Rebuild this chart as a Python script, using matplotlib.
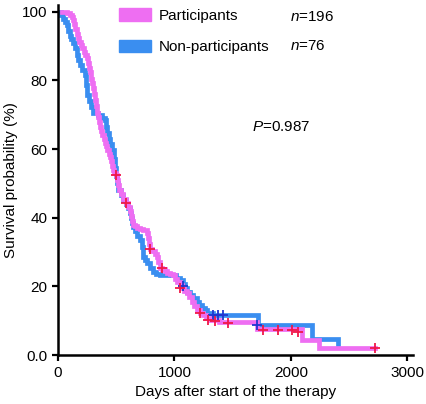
import matplotlib
matplotlib.use("Agg")
import matplotlib.pyplot as plt
from matplotlib.patches import Patch

plt.rcParams['font.family'] = ['Liberation Sans', 'DejaVu Sans']
plt.rcParams['mathtext.fontset'] = 'custom'
plt.rcParams['mathtext.it'] = 'Liberation Sans:italic'
plt.rcParams['mathtext.rm'] = 'Liberation Sans'

# Kaplan-Meier steps (days, survival %)
part_t = [34, 80, 103, 120, 129, 140, 150, 160, 172, 185, 195, 206, 220, 235, 249,
          258, 266, 275, 283, 292, 300, 309, 318, 326, 335, 344, 352, 361, 370, 380,
          392, 403, 414, 425, 436, 446, 455, 463, 472, 485, 498, 505, 512, 524, 540,
          560, 584, 600, 618, 625, 635, 644, 660, 678, 705, 730, 764, 772, 780, 790,
          810, 830, 850, 860, 876, 895, 918, 940, 965, 987, 1005, 1025, 1047, 1065,
          1085, 1107, 1128, 1150, 1170, 1193, 1220, 1245, 1275, 1305, 1380, 1708,
          2094, 2240, 2721]
part_s = [100, 99.5, 99, 98.5, 97.7, 96.5, 95, 93.5, 92.4, 91.2, 90.3, 89.5, 88.3, 87.5, 86.6,
          85, 83.5, 82.5, 80.5, 79.3, 77.8, 76, 74.3, 72.5, 70.6, 69.3, 68, 66.5, 65.4, 64.2,
          63, 61.8, 60.8, 59.8, 58.7, 57.7, 56.5, 55.2, 53.9, 53, 52.5, 51, 49.5, 48, 46.8,
          45.5, 44.3, 43.2, 42, 40.5, 39, 38, 37.5, 37, 36.7, 36.4, 35.6, 34, 32.5, 31,
          30.2, 29.4, 28.6, 27, 25.4, 25, 24.5, 24, 23.6, 23.3, 22.3, 21.4, 20.4, 19.6,
          18.8, 18, 16.8, 15.5, 14.2, 13, 12.3, 11.7, 10.9, 10.2, 9.6, 7.6,
          4.4, 2.1, 2.1]

non_t = [17, 30, 43, 60, 77, 90, 103, 116, 129, 146, 163, 176, 189, 210, 232, 240,
         249, 266, 283, 300, 340, 378, 403, 412, 421, 435, 450, 464, 477, 489, 498,
         506, 515, 540, 560, 584, 600, 618, 627, 635, 648, 661, 683, 704, 721, 730,
         747, 764, 790, 815, 845, 876, 1010, 1047, 1070, 1090, 1110, 1133, 1160, 1193,
         1215, 1236, 1260, 1279, 1330, 1715, 2182, 2405]
non_s = [100, 99, 98, 97, 96, 94.5, 93, 92, 91, 89.3, 87.5, 86, 84.5, 83, 81.6, 78.7,
         75.8, 74, 72.3, 70.6, 69.8, 69.1, 68.5, 66.5, 64.7, 63, 61.4, 59.8, 57, 54.5, 52.3,
         50, 48, 46.5, 45.2, 44, 42.7, 41.5, 40, 38.5, 37.2, 36, 34.7, 33.5, 31.5, 28.6,
         27.6, 26.8, 25.5, 24.2, 23.7, 23.3, 22.5, 21.9, 20.7, 19.5, 18.5, 17.5, 16.5, 15.5,
         14.6, 13.7, 13, 12.2, 11.7, 8.7, 4.6, 3.3]

# censored observations
part_cens_t = [498, 584, 790, 893, 1047, 1219, 1288, 1348, 1459, 1760, 1888, 2009, 2060, 2721]
part_cens_s = [52.5, 44.3, 30.9, 25.4, 19.5, 12.2, 10.2, 10, 9.3, 7.3, 7.3, 7.3, 6.6, 2.1]
non_cens_t = [1073, 1330, 1373, 1416, 1708]
non_cens_s = [20.1, 11.7, 11.7, 11.7, 8.7]

violet = '#ee6ef2'
blue = '#3a8ef0'

fig = plt.figure(figsize=(4.26, 4.04), dpi=100)
ax = fig.add_axes([0.136, 0.121, 0.834, 0.867])

ax.plot(non_t, non_s, drawstyle='steps-post', color=blue, lw=3.4, solid_joinstyle='miter')
ax.plot(part_t, part_s, drawstyle='steps-post', color=violet, lw=3.4, solid_joinstyle='miter')
ax.plot(non_cens_t, non_cens_s, ls='none', marker='+', ms=7, mew=1.3, color='#2035d0')
ax.plot(part_cens_t, part_cens_s, ls='none', marker='+', ms=7, mew=1.3, color='#f01848')

ax.set_xlim(0, 3050)
ax.set_ylim(0, 102)
ax.set_xticks([0, 1000, 2000, 3000])
ax.set_yticks([0, 20, 40, 60, 80, 100])
ax.set_yticklabels(['0.0', '20', '40', '60', '80', '100'])
for s in ['top', 'right']:
    ax.spines[s].set_visible(False)
for s in ['left', 'bottom']:
    ax.spines[s].set_linewidth(1.8)
ax.tick_params(direction='out', length=4, width=1.6, labelsize=11)
ax.set_xlabel('Days after start of the therapy', fontsize=11, labelpad=4)
ax.set_ylabel('Survival probability (%)', fontsize=11, labelpad=3)

handles = [Patch(color=violet), Patch(color=blue)]
ax.legend(handles, ['Participants', 'Non-participants'], loc='upper left',
          bbox_to_anchor=(0.172, 0.99), frameon=False, fontsize=11,
          borderpad=0, borderaxespad=0,
          handlelength=2.1, handleheight=0.9, labelspacing=1.1, handletextpad=0.5)
ax.text(1991, 98.5, '$n$=196', fontsize=11, va='center')
ax.text(1991, 90.0, '$n$=76', fontsize=11, va='center')
ax.text(1665, 66.5, '$P$=0.987', fontsize=11, va='center')

fig.savefig('out.png', dpi=100)
